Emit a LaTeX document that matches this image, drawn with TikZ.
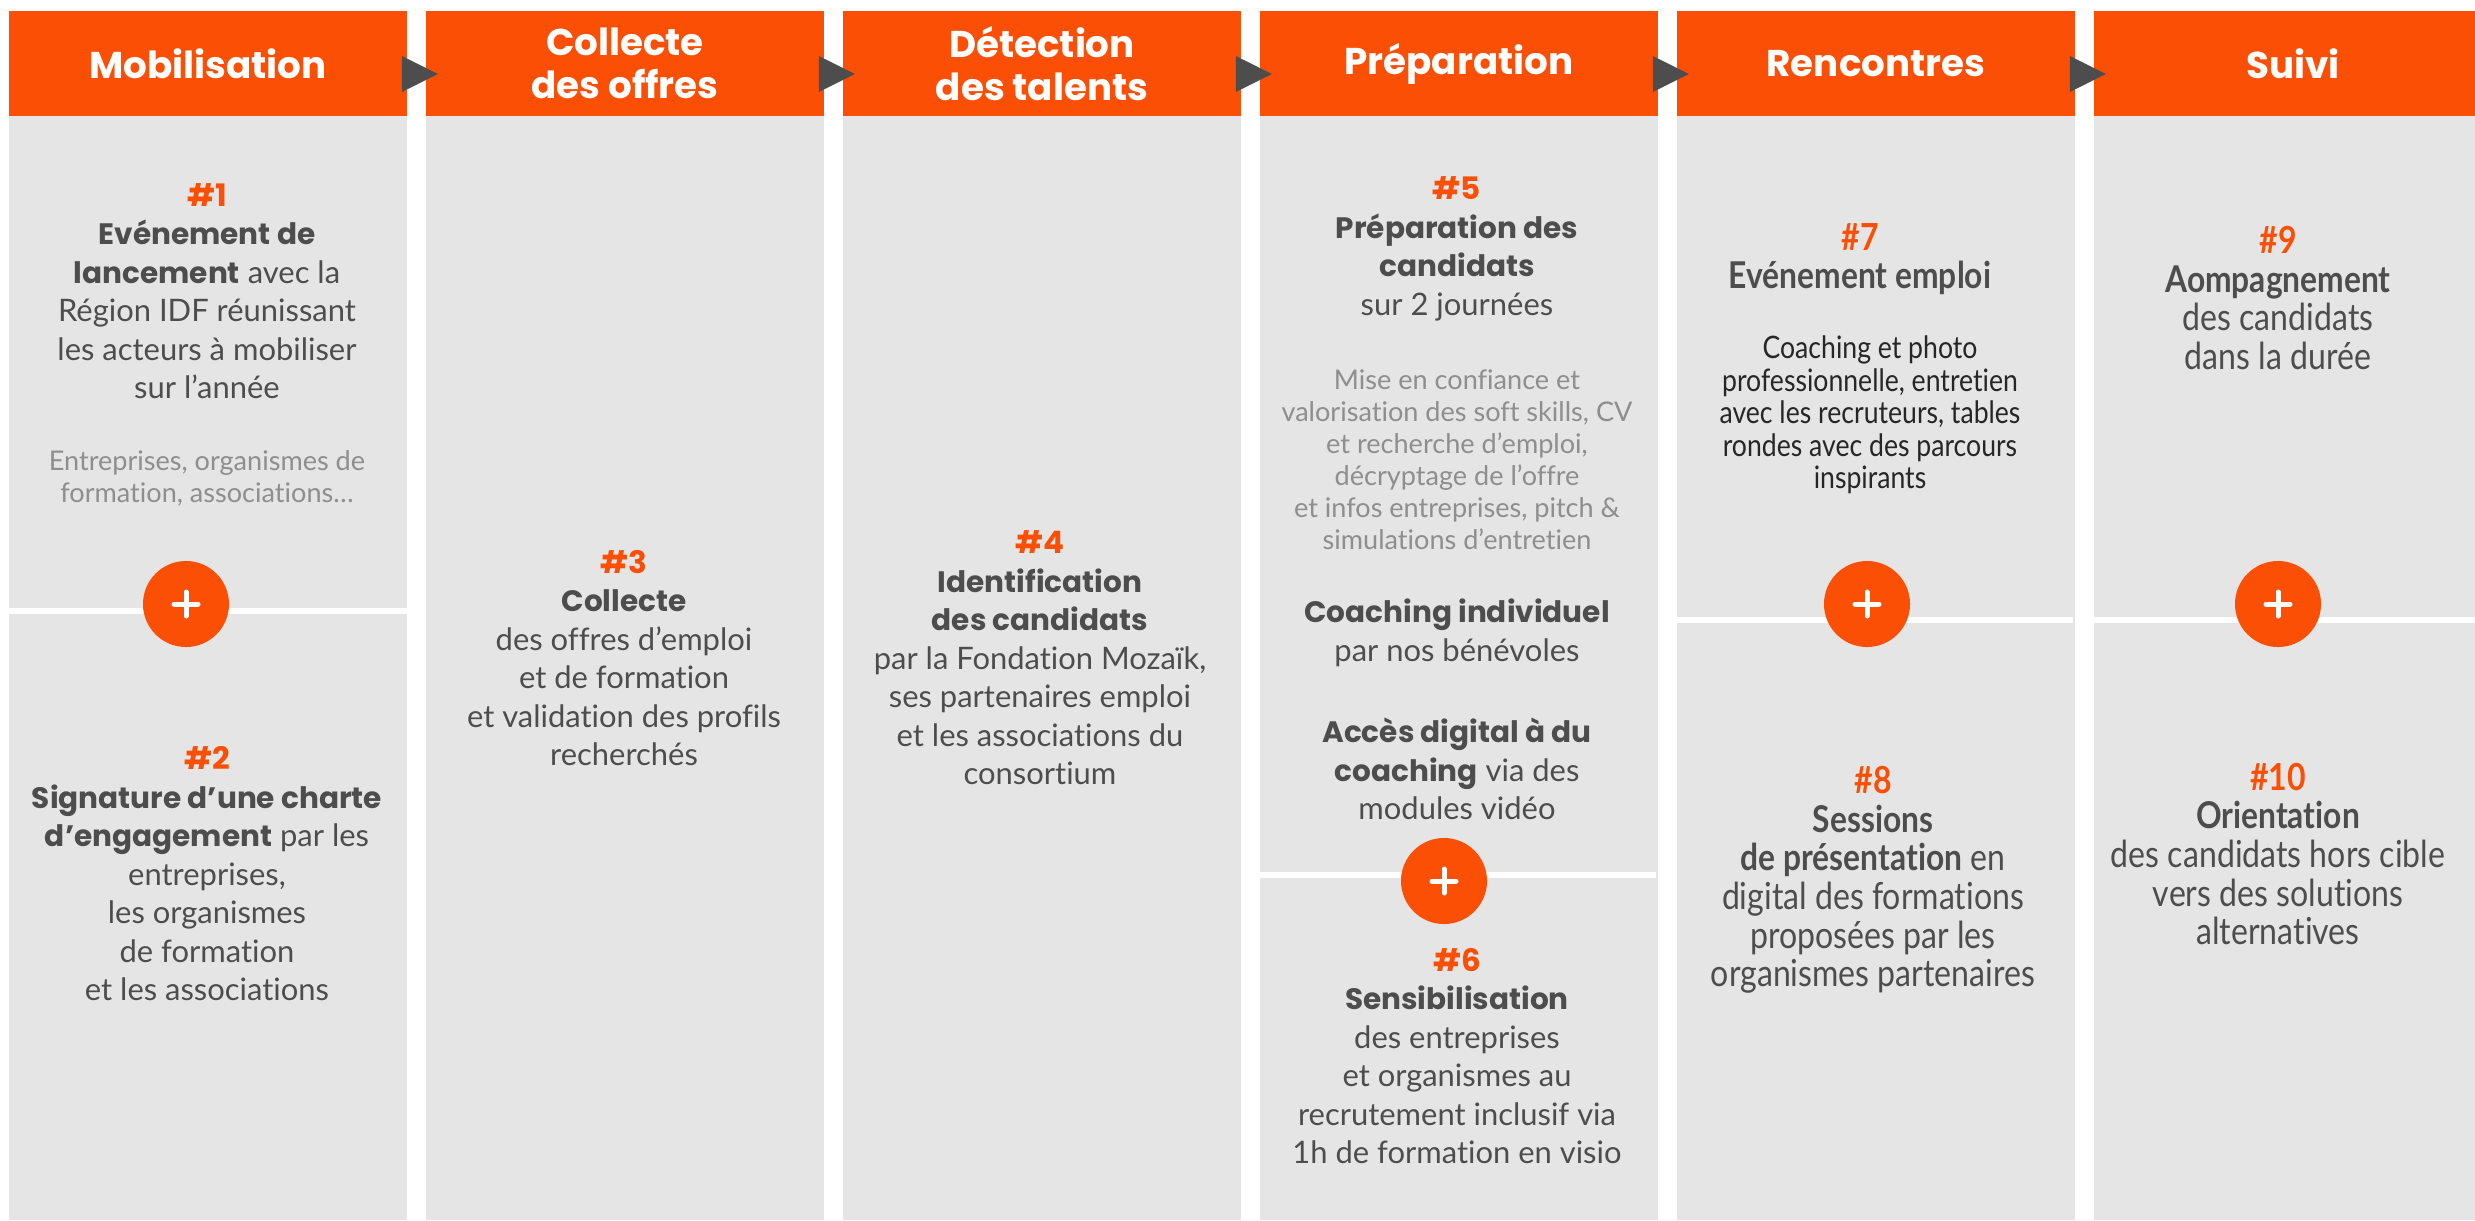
\documentclass[tikz,border=0pt]{standalone}
\usepackage{fontspec}
\setmainfont{Lato}[Ligatures=NoCommon]
\newfontfamily\headfont{Poppins}
\newfontfamily\narrowfont[FakeStretch=0.86,Ligatures=NoCommon]{Lato}
\usetikzlibrary{positioning,calc}

\definecolor{mzorange}{HTML}{FA4F05}
\definecolor{mzpanel}{HTML}{E5E5E5}
\definecolor{mztext}{HTML}{4D4D4D}
\definecolor{mzpale}{HTML}{8E8E8E}
\definecolor{mzdark}{HTML}{262626}

\newcommand{\stepno}[1]{{\headfont\bfseries\color{mzorange}\##1}}
\newcommand{\stepnon}[1]{{\bfseries\color{mzorange}\##1}}
\newcommand{\hi}[1]{{\headfont\bfseries\fontsize{8.4}{10.95}\selectfont #1}}
\newcommand{\hin}[1]{{\bfseries\fontsize{10.5}{10.95}\selectfont #1}}

\tikzset{
  phase/.style={fill=mzorange, text=white, minimum width=3.98cm, minimum height=1.05cm,
    inner sep=0pt, align=center, font=\headfont\bfseries\fontsize{10.6}{12.4}\selectfont},
  panel/.style={fill=mzpanel},
  txt/.style={text=mztext, align=center, inner sep=0pt, font=\fontsize{8.8}{10.95}\selectfont},
  pale/.style={text=mzpale, align=center, inner sep=0pt, font=\fontsize{7.7}{9.1}\selectfont},
  narrow/.style={text=mztext, align=center, inner sep=0pt, font=\narrowfont\fontsize{10.6}{10.95}\selectfont},
  narrowsmall/.style={text=mzdark, align=center, inner sep=0pt, font=\narrowfont\fontsize{8.8}{9.25}\selectfont},
  plus/.style={circle, fill=mzorange, minimum size=0.86cm, inner sep=0pt},
  plusbar/.style={white, line width=0.5mm, line cap=round},
  sep/.style={white, line width=0.55mm},
  tip/.style={fill=mztext},
}

\begin{document}
\begin{tikzpicture}[x=0.01cm, y=-0.01cm]
  \useasboundingbox (0,0) rectangle (2475,1220);
  \fill[white] (0,0) rectangle (2475,1220);
  \clip (0,0) rectangle (2475,1220);

  % Phase columns: grey panel + orange header
  \foreach \i/\label in {1/Mobilisation, 2/{Collecte\\des offres}, 3/{Détection\\des talents},
      4/Préparation, 5/Rencontres, 6/Suivi}{
    \fill[panel] ({9+417*(\i-1)},116) rectangle ({407+417*(\i-1)},1220);
    \node[phase] (h\i) at ({208+417*(\i-1)},63.5) {\label};
  }

  % Arrow tips between headers
  \foreach \i in {1,...,5}{
    \fill[tip] ($(h\i.east)+(-6,-7.5)$) -- ($(h\i.east)+(-6,28.5)$) -- ($(h\i.east)+(30,10.5)$) -- cycle;
  }

  % Separators with plus badges
  \draw[sep] (9,611) -- (407,611);
  \draw[sep] (1258,875) -- (1656,875);
  \draw[sep] (1675,620) -- (2073,620);
  \draw[sep] (2092,620) -- (2475,620);
  \node[plus] (pl1) at (186,604) {};
  \node[plus] (pl4) at (1444,881) {};
  \node[plus] (pl5) at (1867,604) {};
  \node[plus] (pl6) at (2278,604) {};
  \foreach \c in {pl1,pl4,pl5,pl6}{
    \draw[plusbar] ([xshift=-0.12cm]\c.center) -- ([xshift=0.12cm]\c.center);
    \draw[plusbar] ([yshift=-0.12cm]\c.center) -- ([yshift=0.12cm]\c.center);
  }

  % Mobilisation
  \node[txt] (t1) at (207,291) {\stepno{1}\\ \hi{Evénement de}\\ \hi{lancement} avec la\\
    Région IDF réunissant\\ les acteurs à mobiliser\\ sur l’année};
  \node[pale] (p1) at (207,478) {Entreprises, organismes de\\ formation, associations…};
  \node[txt] (t2) at (207,874) {\stepno{2}\\ \hi{Signature d’une charte}\\ \hi{d’engagement} par les\\
    entreprises,\\ les organismes\\ de formation\\ et les associations};

  % Collecte des offres
  \node[txt] (t3) at (624,658) {\stepno{3}\\ \hi{Collecte}\\ des offres d’emploi\\ et de formation\\
    et validation des profils\\ recherchés};

  % Detection des talents
  \node[txt] (t4) at (1040,658) {\stepno{4}\\ \hi{Identification}\\ \hi{des candidats}\\
    par la Fondation Mozaïk,\\ ses partenaires emploi\\ et les associations du\\ consortium};

  % Preparation
  \node[txt] (t5) at (1457,249) {\stepno{5}\\ \hi{Préparation des}\\ \hi{candidats}\\ sur 2 journées};
  \node[pale] (p5) at (1457,460) {Mise en confiance et\\ valorisation des soft skills, CV\\
    et recherche d’emploi,\\ décryptage de l’offre\\ et infos entreprises, pitch \&\\
    simulations d’entretien};
  \node[txt] (c5) at (1457,633) {\hi{Coaching individuel}\\ par nos bénévoles};
  \node[txt] (d5) at (1457,769) {\hi{Accès digital à du}\\ \hi{coaching} via des\\ modules vidéo};
  \node[txt] (t6) at (1457,1056) {\stepno{6}\\ \hi{Sensibilisation}\\ des entreprises\\
    et organismes au\\ recrutement inclusif via\\ 1h de formation en visio};

  % Rencontres
  \node[narrow] (t7) at (1860,259) {\stepnon{7}\\ \hin{Evénement emploi}};
  \node[narrowsmall] (s7) at (1870,415) {Coaching et photo\\ professionnelle, entretien\\
    avec les recruteurs, tables\\ rondes avec des parcours\\ inspirants};
  \node[narrow] (t8) at (1873,880) {\stepnon{8}\\ \hin{Sessions}\\ \hin{de présentation} en\\
    digital des formations\\ proposées par les\\ organismes partenaires};

  % Suivi
  \node[narrow] (t9) at (2278,298) {\stepnon{9}\\ \hin{Aompagnement}\\ des candidats\\ dans la durée};
  \node[narrow] (t10) at (2278,854) {\stepnon{10}\\ \hin{Orientation}\\ des candidats hors cible\\
    vers des solutions\\ alternatives};
\end{tikzpicture}
\end{document}
